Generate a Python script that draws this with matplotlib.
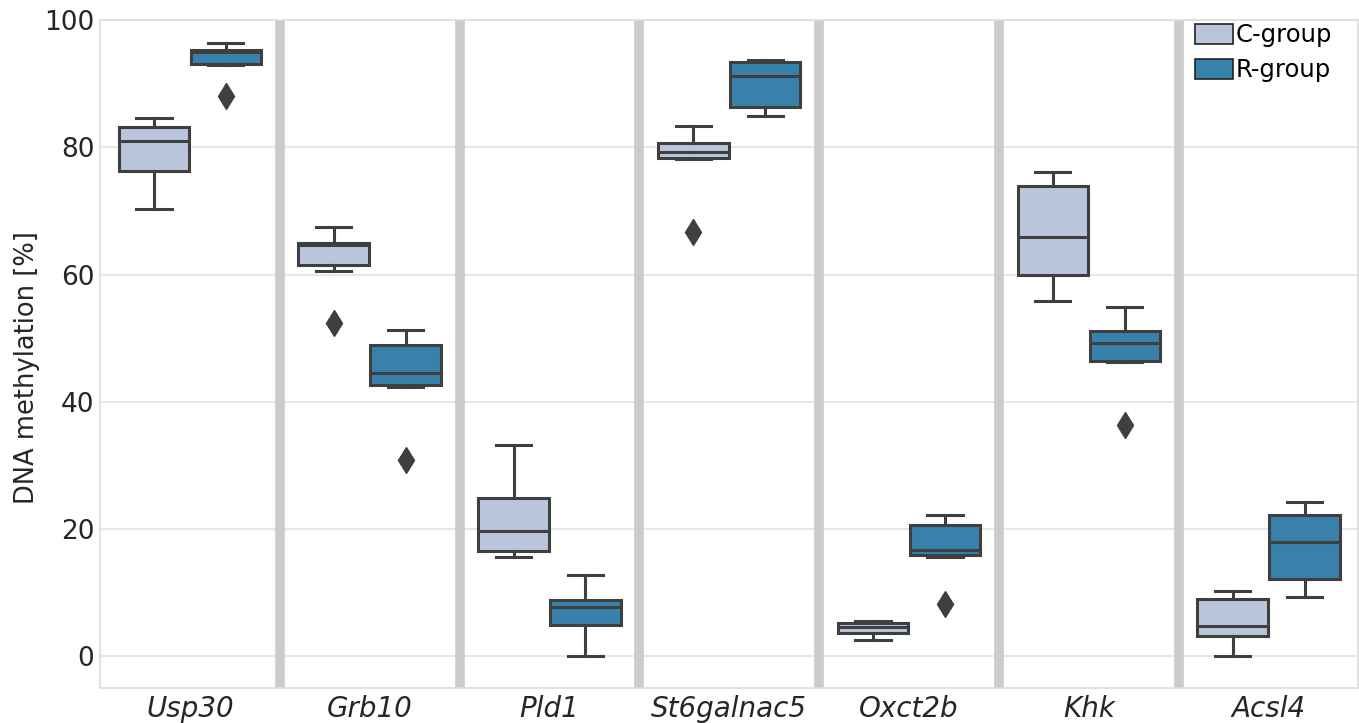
"""Box plot of DNA methylation per gene for the C- and R-group."""

import matplotlib
matplotlib.use("Agg")
import matplotlib.pyplot as plt
import matplotlib.patches as mpatches

GENES = ["Usp30", "Grb10", "Pld1", "St6galnac5", "Oxct2b", "Khk", "Acsl4"]
GROUPS = ["C-group", "R-group"]

# Box statistics, one value per gene.
C_WHISLO = [70.3, 60.6, 15.7, 78.2, 2.6, 55.9, 0.0]
C_Q1 = [76.3, 61.5, 16.6, 78.4, 3.7, 60.0, 3.2]
C_MED = [81.0, 64.7, 19.8, 79.3, 4.6, 65.9, 4.8]
C_Q3 = [83.2, 65.0, 24.9, 80.7, 5.2, 73.9, 9.1]
C_WHISHI = [84.6, 67.5, 33.3, 83.4, 5.6, 76.2, 10.3]
C_FLIERS = [[], [52.4], [], [66.7], [], [], []]

R_WHISLO = [92.9, 42.4, 0.0, 84.9, 15.7, 46.3, 9.3]
R_Q1 = [93.2, 42.6, 4.9, 86.3, 15.9, 46.5, 12.1]
R_MED = [95.0, 44.5, 7.8, 91.3, 16.7, 49.3, 18.0]
R_Q3 = [95.4, 49.0, 8.8, 93.4, 20.7, 51.2, 22.2]
R_WHISHI = [96.4, 51.3, 12.8, 93.7, 22.2, 55.0, 24.3]
R_FLIERS = [[88.1], [30.9], [], [], [8.2], [36.4], []]

COLORS = ["#b8c5db", "#3781ab"]
LINE = "#3f3f3f"


def make_stats(lo, q1, med, q3, hi, fliers):
    return [dict(whislo=a, q1=b, med=c, q3=d, whishi=e, fliers=f)
            for a, b, c, d, e, f in zip(lo, q1, med, q3, hi, fliers)]


def main():
    plt.rcParams["font.family"] = ["DejaVu Sans"]
    fig = plt.figure(figsize=(13.59, 7.23), dpi=100)
    ax = fig.add_axes([0.0736, 0.048, 0.926, 0.924])

    stats = [
        make_stats(C_WHISLO, C_Q1, C_MED, C_Q3, C_WHISHI, C_FLIERS),
        make_stats(R_WHISLO, R_Q1, R_MED, R_Q3, R_WHISHI, R_FLIERS),
    ]
    width = 0.8 / 2 * 0.98
    for k, (group_stats, color) in enumerate(zip(stats, COLORS)):
        offset = (k - 0.5) * 0.4
        positions = [i + offset for i in range(len(GENES))]
        ax.bxp(group_stats, positions=positions, widths=width, patch_artist=True,
               manage_ticks=False, zorder=3,
               boxprops=dict(facecolor=color, edgecolor=LINE, linewidth=2.2),
               medianprops=dict(color=LINE, linewidth=2.2),
               whiskerprops=dict(color=LINE, linewidth=2.2),
               capprops=dict(color=LINE, linewidth=2.2),
               flierprops=dict(marker="d", markerfacecolor=LINE,
                               markeredgecolor=LINE, markersize=13))

    # grey separators between genes
    for i in range(len(GENES) - 1):
        ax.axvline(i + 0.5, color="#cccccc", linewidth=7, zorder=2)

    ax.set_xlim(-0.5, len(GENES) - 0.5)
    ax.set_ylim(-5, 100)
    ax.set_yticks([0, 20, 40, 60, 80, 100])
    ax.set_xticks(range(len(GENES)))
    ax.set_xticklabels(GENES, fontsize=20, style="italic", color="#262626")
    ax.tick_params(axis="y", labelsize=19, labelcolor="#262626", length=0, pad=4)
    ax.tick_params(axis="x", length=0, pad=5)
    ax.set_ylabel("DNA methylation [%]", fontsize=18.5, color="#262626")
    ax.yaxis.set_label_coords(-0.048, 0.48)

    ax.yaxis.grid(True, color="#e3e3e3", linewidth=1.2, zorder=0)
    ax.xaxis.grid(False)
    ax.set_axisbelow(True)
    for spine in ax.spines.values():
        spine.set_color("#dddddd")
        spine.set_linewidth(1.2)

    handles = [mpatches.Patch(facecolor=c, edgecolor="#222222", linewidth=1.2, label=g)
               for g, c in zip(GROUPS, COLORS)]
    ax.legend(handles=handles, loc="upper right", frameon=False, fontsize=17.5,
              handlelength=1.6, handleheight=0.9, handletextpad=0.1,
              borderaxespad=0.0, labelspacing=0.45, bbox_to_anchor=(0.987, 1.01))

    fig.savefig("out.png", dpi=100)
    plt.close(fig)


if __name__ == "__main__":
    main()
